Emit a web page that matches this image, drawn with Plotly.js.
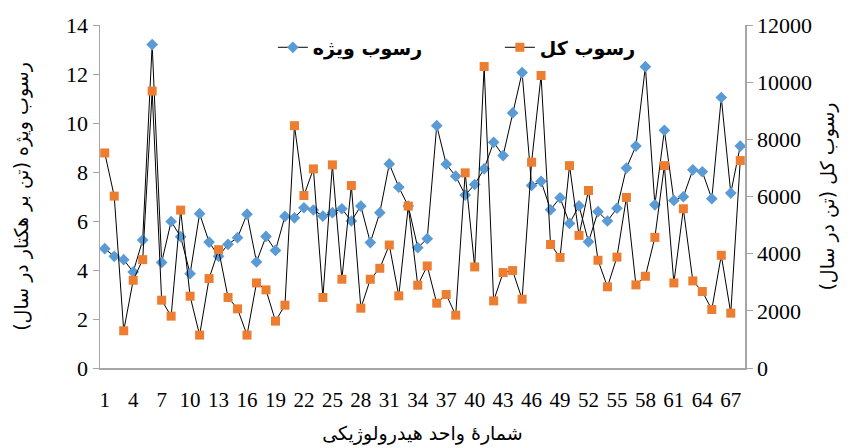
<!DOCTYPE html>
<html>
<head>
<meta charset="utf-8">
<script src="https://cdn.plot.ly/plotly-3.0.1.min.js"></script>
<style>html,body{margin:0;padding:0;background:#fff;}#chart{width:850px;height:448px;}</style>
</head>
<body>
<div id="chart"></div>
<script>
const units = Array.from({length: 68}, (_, i) => i + 1);
const specificSediment = [4.87,4.56,4.42,3.92,5.22,13.2,4.31,5.98,5.36,3.85,6.30,5.14,4.56,5.05,5.32,6.28,4.33,5.37,4.80,6.19,
  6.13,6.54,6.45,6.20,6.34,6.50,6.00,6.61,5.12,6.34,8.33,7.38,6.61,4.91,5.28,9.89,8.32,7.83,7.06,7.49,
  8.13,9.21,8.67,10.41,12.06,7.45,7.62,6.46,6.95,5.90,6.62,5.15,6.38,6.00,6.52,8.16,9.06,12.3,6.66,9.70,
  6.84,6.99,8.09,8.01,6.91,11.04,7.14,9.06];
const totalSediment = [7524,6013,1303,3070,3791,9688,2372,1814,5524,2512,1151,3128,4140,2466,2070,1151,2977,2733,1640,2198,
  8478,6036,6966,2466,7106,3105,6385,2093,3105,3489,4303,2524,5664,2896,3570,2268,2570,1849,6827,3536,
  10548,2349,3338,3408,2407,7200,10234,4320,3870,7080,4640,6210,3770,2840,3880,5965,2908,3210,4570,7080,
  2977,5571,3047,2675,2047,3943,1919,7257];
const xTicks = [1,4,7,10,13,16,19,22,25,28,31,34,37,40,43,46,49,52,55,58,61,64,67];
const leftTicks = [0,2,4,6,8,10,12,14];
const rightTicks = [0,2000,4000,6000,8000,10000,12000];
const rightTickText = ['0','2000','4000','6000','8000','10000','12000'];

const nameSpecific = 'رسوب ویژه';
const nameTotal = 'رسوب کل';
const faFont = 'DejaVu Sans';
const numFont = '"Liberation Serif", "Times New Roman", serif';

const traces = [
  {x: units, y: specificSediment, name: nameSpecific, type: 'scatter', mode: 'lines+markers',
   line: {color: '#000000', width: 1},
   marker: {symbol: 'diamond', size: 9, color: '#5B9BD5'}, yaxis: 'y'},
  {x: units, y: totalSediment, name: nameTotal, type: 'scatter', mode: 'lines+markers',
   line: {color: '#000000', width: 1},
   marker: {symbol: 'square', size: 9, color: '#ED7D31'}, yaxis: 'y2'}
];

const layout = {
  width: 850, height: 448,
  margin: {l: 100, r: 105, t: 25, b: 80},
  paper_bgcolor: '#ffffff', plot_bgcolor: '#ffffff',
  showlegend: true,
  legend: {orientation: 'h', x: 0.268, y: 0.99, xanchor: 'left', yanchor: 'top',
    font: {family: faFont, size: 19, color: '#000', weight: 'bold'},
    entrywidth: 182, bgcolor: 'rgba(255,255,255,0)', traceorder: 'normal'},
  xaxis: {range: [0.5, 68.5], tickmode: 'array', tickvals: xTicks, ticktext: xTicks.map(String),
    showgrid: false, zeroline: false, showline: true, linecolor: '#a6a6a6', linewidth: 1.5,
    ticks: '', ticklabelstandoff: 12, tickfont: {family: numFont, size: 21, color: '#000'},
    title: {text: 'شمارهٔ واحد هیدرولوژیکی', font: {family: faFont, size: 19, color: '#000'}, standoff: 16}},
  yaxis: {range: [0, 14], tickmode: 'array', tickvals: leftTicks, showgrid: false, zeroline: false,
    showline: true, linecolor: '#a6a6a6', linewidth: 1.5, ticks: 'outside', ticklen: 6, tickcolor: '#a6a6a6',
    tickfont: {family: numFont, size: 22, color: '#000'},
    title: {text: 'رسوب ویژه (تن بر هکتار در سال)', font: {family: faFont, size: 19, color: '#000'}, standoff: 32}},
  yaxis2: {range: [0, 12000], overlaying: 'y', side: 'right', tickmode: 'array', tickvals: rightTicks, ticktext: rightTickText,
    showgrid: false, zeroline: false, showline: true, linecolor: '#a6a6a6', linewidth: 1.5,
    ticks: 'outside', ticklen: 6, tickcolor: '#a6a6a6',
    tickfont: {family: numFont, size: 22, color: '#000'},
    title: {text: 'رسوب کل (تن در سال)', font: {family: faFont, size: 19, color: '#000'}, standoff: 10}}
};

Plotly.newPlot('chart', traces, layout, {displayModeBar: false, staticPlot: true});
</script>
</body>
</html>
